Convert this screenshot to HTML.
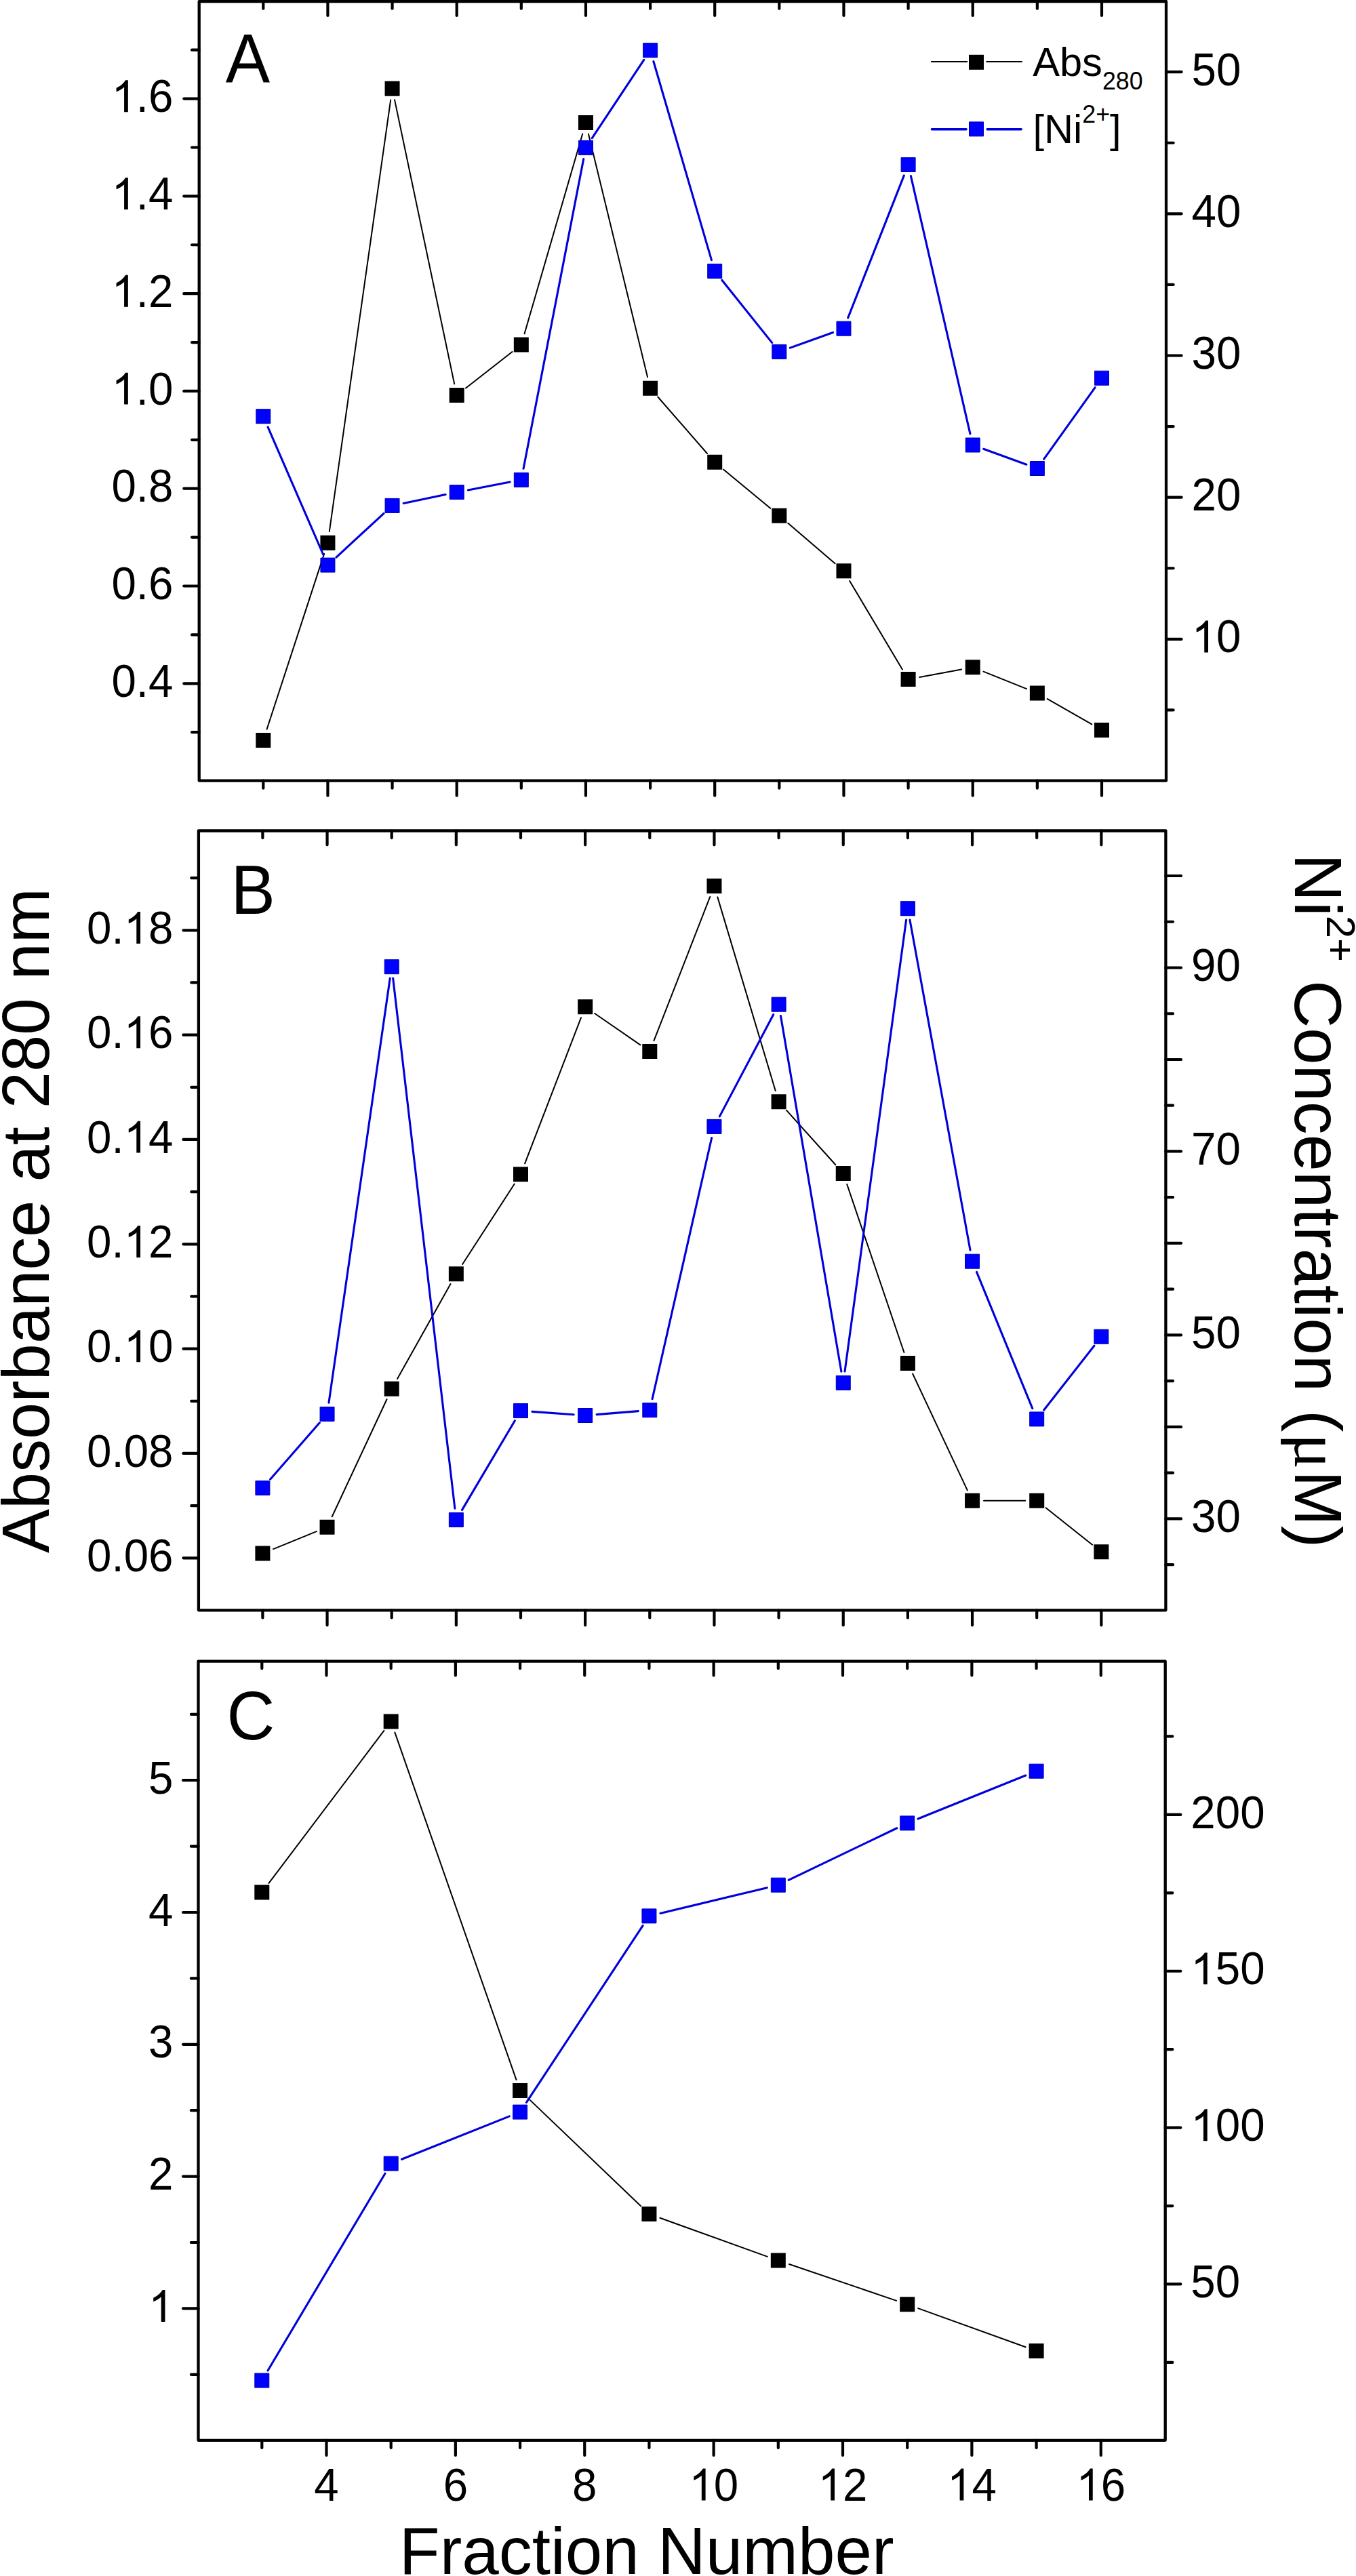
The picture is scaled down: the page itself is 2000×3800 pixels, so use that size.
<!DOCTYPE html><html><head><meta charset="utf-8"><style>html,body{margin:0;padding:0;background:#fff;width:2000px;height:3800px;}svg{display:block;}text{font-family:"Liberation Sans", sans-serif;fill:#000;}</style></head><body>
<svg width="2000" height="3800" viewBox="0 0 2000 3800">
<rect x="0" y="0" width="2000" height="3800" fill="#fff"/>
<path d="M388.30 1151.60V1162.75M388.30 2.10V12.65M483.43 1151.60V1173.75M483.43 2.10V22.95M578.56 1151.60V1162.75M578.56 2.10V12.65M673.69 1151.60V1173.75M673.69 2.10V22.95M768.82 1151.60V1162.75M768.82 2.10V12.65M863.95 1151.60V1173.75M863.95 2.10V22.95M959.08 1151.60V1162.75M959.08 2.10V12.65M1054.21 1151.60V1173.75M1054.21 2.10V22.95M1149.34 1151.60V1162.75M1149.34 2.10V12.65M1244.47 1151.60V1173.75M1244.47 2.10V22.95M1339.60 1151.60V1162.75M1339.60 2.10V12.65M1434.73 1151.60V1173.75M1434.73 2.10V22.95M1529.86 1151.60V1162.75M1529.86 2.10V12.65M1624.99 1151.60V1173.75M1624.99 2.10V22.95M293.70 1008.28H271.25M293.70 864.50H271.25M293.70 720.72H271.25M293.70 576.94H271.25M293.70 433.16H271.25M293.70 289.38H271.25M293.70 145.60H271.25M293.70 1080.17H283.05M293.70 936.39H283.05M293.70 792.61H283.05M293.70 648.83H283.05M293.70 505.05H283.05M293.70 361.27H283.05M293.70 217.49H283.05M293.70 73.71H283.05M1720.00 942.80H1742.65M1720.00 733.65H1742.65M1720.00 524.50H1742.65M1720.00 315.35H1742.65M1720.00 106.20H1742.65M1720.00 1047.38H1730.65M1720.00 838.23H1730.65M1720.00 629.08H1730.65M1720.00 419.92H1730.65M1720.00 210.77H1730.65" stroke="#000" stroke-width="4.20" fill="none" stroke-linecap="round"/>
<rect x="293.70" y="2.10" width="1426.30" height="1149.50" fill="none" stroke="#000" stroke-width="4.30" stroke-linejoin="round"/>
<g transform="translate(255.50,1027.88) scale(1,1.035)"><text x="-91.05 -54.63 -36.43" y="0" font-size="65.50">0.4</text></g>
<g transform="translate(255.50,884.10) scale(1,1.035)"><text x="-91.05 -54.63 -36.43" y="0" font-size="65.50">0.6</text></g>
<g transform="translate(255.50,740.32) scale(1,1.035)"><text x="-91.05 -54.63 -36.43" y="0" font-size="65.50">0.8</text></g>
<g transform="translate(255.50,596.54) scale(1,1.035)"><text x="-54.63 -36.43" y="0" font-size="65.50">.0</text><path d="M-66.65 0.00L-72.41 0.00L-72.41 -35.44Q-74.49 -33.53 -77.78 -31.66Q-81.08 -29.79 -83.92 -28.77L-83.92 -34.15Q-79.09 -36.34 -75.56 -39.40Q-72.02 -42.46 -70.39 -45.30L-66.65 -45.30Z" fill="#000"/></g>
<g transform="translate(255.50,452.76) scale(1,1.035)"><text x="-54.63 -36.43" y="0" font-size="65.50">.2</text><path d="M-66.65 0.00L-72.41 0.00L-72.41 -35.44Q-74.49 -33.53 -77.78 -31.66Q-81.08 -29.79 -83.92 -28.77L-83.92 -34.15Q-79.09 -36.34 -75.56 -39.40Q-72.02 -42.46 -70.39 -45.30L-66.65 -45.30Z" fill="#000"/></g>
<g transform="translate(255.50,308.98) scale(1,1.035)"><text x="-54.63 -36.43" y="0" font-size="65.50">.4</text><path d="M-66.65 0.00L-72.41 0.00L-72.41 -35.44Q-74.49 -33.53 -77.78 -31.66Q-81.08 -29.79 -83.92 -28.77L-83.92 -34.15Q-79.09 -36.34 -75.56 -39.40Q-72.02 -42.46 -70.39 -45.30L-66.65 -45.30Z" fill="#000"/></g>
<g transform="translate(255.50,165.20) scale(1,1.035)"><text x="-54.63 -36.43" y="0" font-size="65.50">.6</text><path d="M-66.65 0.00L-72.41 0.00L-72.41 -35.44Q-74.49 -33.53 -77.78 -31.66Q-81.08 -29.79 -83.92 -28.77L-83.92 -34.15Q-79.09 -36.34 -75.56 -39.40Q-72.02 -42.46 -70.39 -45.30L-66.65 -45.30Z" fill="#000"/></g>
<g transform="translate(1757.60,962.40) scale(1,1.035)"><text x="36.43" y="0" font-size="65.50">0</text><path d="M24.40 0.00L18.65 0.00L18.65 -35.44Q16.57 -33.53 13.27 -31.66Q9.98 -29.79 7.13 -28.77L7.13 -34.15Q11.96 -36.34 15.50 -39.40Q19.03 -42.46 20.66 -45.30L24.40 -45.30Z" fill="#000"/></g>
<g transform="translate(1757.60,753.25) scale(1,1.035)"><text x="0.00 36.43" y="0" font-size="65.50">20</text></g>
<g transform="translate(1757.60,544.10) scale(1,1.035)"><text x="0.00 36.43" y="0" font-size="65.50">30</text></g>
<g transform="translate(1757.60,334.95) scale(1,1.035)"><text x="0.00 36.43" y="0" font-size="65.50">40</text></g>
<g transform="translate(1757.60,125.80) scale(1,1.035)"><text x="0.00 36.43" y="0" font-size="65.50">50</text></g>
<text transform="translate(332.80,122.00) scale(1,1.040)" font-size="98.00">A</text>
<path d="M393.58 1075.74L478.15 816.86M485.82 783.87L576.17 147.53M582.06 147.34L670.19 566.36M687.07 572.52L755.44 518.98M773.56 492.18L859.21 197.42M867.96 197.62L955.07 556.18M970.25 585.51L1043.04 668.99M1067.30 692.65L1136.25 749.85M1162.24 771.77L1231.57 831.23M1253.17 856.91L1330.90 987.49M1356.31 998.97L1418.02 987.43M1450.51 990.63L1514.08 1016.17M1544.62 1030.94L1610.23 1068.46" stroke="#000" stroke-width="2.00" fill="none" stroke-linecap="round"/>
<path d="M377.30 1080.90h22.0v22.0h-22.0zM472.43 789.70h22.0v22.0h-22.0zM567.56 119.70h22.0v22.0h-22.0zM662.69 572.00h22.0v22.0h-22.0zM757.82 497.50h22.0v22.0h-22.0zM852.95 170.10h22.0v22.0h-22.0zM948.08 561.70h22.0v22.0h-22.0zM1043.21 670.80h22.0v22.0h-22.0zM1138.34 749.70h22.0v22.0h-22.0zM1233.47 831.30h22.0v22.0h-22.0zM1328.60 991.10h22.0v22.0h-22.0zM1423.73 973.30h22.0v22.0h-22.0zM1518.86 1011.50h22.0v22.0h-22.0zM1613.99 1065.90h22.0v22.0h-22.0z" fill="#000"/>
<path d="M395.06 629.80L476.67 818.00M495.93 822.08L566.06 757.42M595.20 742.44L657.05 729.56M690.39 722.91L752.12 711.09M772.06 691.21L860.71 234.59M873.33 203.72L949.70 88.38M963.85 90.52L1049.44 383.58M1064.83 413.18L1138.72 505.62M1165.34 513.15L1228.47 490.45M1250.70 468.88L1333.37 258.82M1343.41 259.57L1430.92 639.93M1450.71 662.30L1513.88 685.20M1539.74 677.16L1615.11 571.54" stroke="#0000DD" stroke-width="3.10" fill="none" stroke-linecap="round"/>
<path d="M377.80 603.70h21.0v21.0h-21.0zM472.93 823.10h21.0v21.0h-21.0zM568.06 735.40h21.0v21.0h-21.0zM663.19 715.60h21.0v21.0h-21.0zM758.32 697.40h21.0v21.0h-21.0zM853.45 207.40h21.0v21.0h-21.0zM948.58 63.70h21.0v21.0h-21.0zM1043.71 389.40h21.0v21.0h-21.0zM1138.84 508.40h21.0v21.0h-21.0zM1233.97 474.20h21.0v21.0h-21.0zM1329.10 232.50h21.0v21.0h-21.0zM1424.23 646.00h21.0v21.0h-21.0zM1519.36 680.50h21.0v21.0h-21.0zM1614.49 547.20h21.0v21.0h-21.0z" fill="#0000FF" stroke="#0000B4" stroke-width="1"/>
<path d="M387.40 2375.30V2386.45M387.40 1225.50V1236.05M482.55 2375.30V2397.45M482.55 1225.50V1246.35M577.70 2375.30V2386.45M577.70 1225.50V1236.05M672.85 2375.30V2397.45M672.85 1225.50V1246.35M768.00 2375.30V2386.45M768.00 1225.50V1236.05M863.15 2375.30V2397.45M863.15 1225.50V1246.35M958.30 2375.30V2386.45M958.30 1225.50V1236.05M1053.45 2375.30V2397.45M1053.45 1225.50V1246.35M1148.60 2375.30V2386.45M1148.60 1225.50V1236.05M1243.75 2375.30V2397.45M1243.75 1225.50V1246.35M1338.90 2375.30V2386.45M1338.90 1225.50V1236.05M1434.05 2375.30V2397.45M1434.05 1225.50V1246.35M1529.20 2375.30V2386.45M1529.20 1225.50V1236.05M1624.35 2375.30V2397.45M1624.35 1225.50V1246.35M292.90 2298.30H270.45M292.90 2143.97H270.45M292.90 1989.64H270.45M292.90 1835.30H270.45M292.90 1680.97H270.45M292.90 1526.63H270.45M292.90 1372.30H270.45M292.90 2221.14H282.25M292.90 2066.80H282.25M292.90 1912.47H282.25M292.90 1758.13H282.25M292.90 1603.80H282.25M292.90 1449.47H282.25M292.90 1295.13H282.25M1719.40 2240.43H1742.05M1719.40 2104.94H1742.05M1719.40 1969.45H1742.05M1719.40 1833.96H1742.05M1719.40 1698.47H1742.05M1719.40 1562.98H1742.05M1719.40 1427.49H1742.05M1719.40 1292.00H1742.05M1719.40 2308.18H1730.05M1719.40 2172.68H1730.05M1719.40 2037.19H1730.05M1719.40 1901.70H1730.05M1719.40 1766.21H1730.05M1719.40 1630.72H1730.05M1719.40 1495.23H1730.05M1719.40 1359.74H1730.05" stroke="#000" stroke-width="4.20" fill="none" stroke-linecap="round"/>
<rect x="292.90" y="1225.50" width="1426.50" height="1149.80" fill="none" stroke="#000" stroke-width="4.30" stroke-linejoin="round"/>
<g transform="translate(255.50,2317.90) scale(1,1.035)"><text x="-127.48 -91.05 -72.86 -36.43" y="0" font-size="65.50">0.06</text></g>
<g transform="translate(255.50,2163.57) scale(1,1.035)"><text x="-127.48 -91.05 -72.86 -36.43" y="0" font-size="65.50">0.08</text></g>
<g transform="translate(255.50,2009.24) scale(1,1.035)"><text x="-127.48 -91.05 -36.43" y="0" font-size="65.50">0.0</text><path d="M-48.45 0.00L-54.21 0.00L-54.21 -35.44Q-56.29 -33.53 -59.58 -31.66Q-62.88 -29.79 -65.72 -28.77L-65.72 -34.15Q-60.89 -36.34 -57.36 -39.40Q-53.83 -42.46 -52.20 -45.30L-48.45 -45.30Z" fill="#000"/></g>
<g transform="translate(255.50,1854.90) scale(1,1.035)"><text x="-127.48 -91.05 -36.43" y="0" font-size="65.50">0.2</text><path d="M-48.45 0.00L-54.21 0.00L-54.21 -35.44Q-56.29 -33.53 -59.58 -31.66Q-62.88 -29.79 -65.72 -28.77L-65.72 -34.15Q-60.89 -36.34 -57.36 -39.40Q-53.83 -42.46 -52.20 -45.30L-48.45 -45.30Z" fill="#000"/></g>
<g transform="translate(255.50,1700.57) scale(1,1.035)"><text x="-127.48 -91.05 -36.43" y="0" font-size="65.50">0.4</text><path d="M-48.45 0.00L-54.21 0.00L-54.21 -35.44Q-56.29 -33.53 -59.58 -31.66Q-62.88 -29.79 -65.72 -28.77L-65.72 -34.15Q-60.89 -36.34 -57.36 -39.40Q-53.83 -42.46 -52.20 -45.30L-48.45 -45.30Z" fill="#000"/></g>
<g transform="translate(255.50,1546.23) scale(1,1.035)"><text x="-127.48 -91.05 -36.43" y="0" font-size="65.50">0.6</text><path d="M-48.45 0.00L-54.21 0.00L-54.21 -35.44Q-56.29 -33.53 -59.58 -31.66Q-62.88 -29.79 -65.72 -28.77L-65.72 -34.15Q-60.89 -36.34 -57.36 -39.40Q-53.83 -42.46 -52.20 -45.30L-48.45 -45.30Z" fill="#000"/></g>
<g transform="translate(255.50,1391.90) scale(1,1.035)"><text x="-127.48 -91.05 -36.43" y="0" font-size="65.50">0.8</text><path d="M-48.45 0.00L-54.21 0.00L-54.21 -35.44Q-56.29 -33.53 -59.58 -31.66Q-62.88 -29.79 -65.72 -28.77L-65.72 -34.15Q-60.89 -36.34 -57.36 -39.40Q-53.83 -42.46 -52.20 -45.30L-48.45 -45.30Z" fill="#000"/></g>
<g transform="translate(1757.00,2260.03) scale(1,1.035)"><text x="0.00 36.43" y="0" font-size="65.50">30</text></g>
<g transform="translate(1757.00,1989.05) scale(1,1.035)"><text x="0.00 36.43" y="0" font-size="65.50">50</text></g>
<g transform="translate(1757.00,1718.07) scale(1,1.035)"><text x="0.00 36.43" y="0" font-size="65.50">70</text></g>
<g transform="translate(1757.00,1447.09) scale(1,1.035)"><text x="0.00 36.43" y="0" font-size="65.50">90</text></g>
<text transform="translate(340.40,1348.00) scale(1,1.040)" font-size="98.00">B</text>
<path d="M403.14 2285.08L466.81 2259.12M489.74 2237.29L570.51 2064.21M586.02 2033.97L664.53 1894.03M682.09 1864.93L758.76 1746.47M774.11 1716.34L857.04 1501.16M877.14 1494.96L944.31 1541.34M964.48 1535.16L1047.27 1322.94M1058.32 1323.39L1143.73 1609.01M1159.98 1637.93L1232.37 1718.27M1249.22 1747.00L1333.43 1995.00M1346.13 2026.49L1426.82 2198.31M1451.05 2213.70L1512.20 2213.70M1542.51 2224.28L1611.04 2278.72" stroke="#000" stroke-width="2.00" fill="none" stroke-linecap="round"/>
<path d="M376.40 2280.50h22.0v22.0h-22.0zM471.55 2241.70h22.0v22.0h-22.0zM566.70 2037.80h22.0v22.0h-22.0zM661.85 1868.20h22.0v22.0h-22.0zM757.00 1721.20h22.0v22.0h-22.0zM852.15 1474.30h22.0v22.0h-22.0zM947.30 1540.00h22.0v22.0h-22.0zM1042.45 1296.10h22.0v22.0h-22.0zM1137.60 1614.30h22.0v22.0h-22.0zM1232.75 1719.90h22.0v22.0h-22.0zM1327.90 2000.10h22.0v22.0h-22.0zM1423.05 2202.70h22.0v22.0h-22.0zM1518.20 2202.70h22.0v22.0h-22.0zM1613.35 2278.30h22.0v22.0h-22.0z" fill="#000"/>
<path d="M398.58 2182.19L471.37 2098.81M484.98 2069.17L575.27 1443.03M579.67 1443.09L670.88 2225.11M681.50 2227.37L759.35 2095.73M784.96 2082.33L846.19 2086.77M880.09 2086.61L941.36 2081.59M962.07 2063.62L1049.68 1678.48M1061.39 1646.87L1140.66 1496.73M1151.46 1498.46L1240.89 2023.14M1246.04 2023.06L1336.61 1357.04M1341.96 1356.92L1430.99 1843.98M1440.48 1876.44L1522.77 2077.66M1539.68 2080.01L1613.87 1985.19" stroke="#0000DD" stroke-width="3.10" fill="none" stroke-linecap="round"/>
<path d="M376.90 2184.50h21.0v21.0h-21.0zM472.05 2075.50h21.0v21.0h-21.0zM567.20 1415.70h21.0v21.0h-21.0zM662.35 2231.50h21.0v21.0h-21.0zM757.50 2070.60h21.0v21.0h-21.0zM852.65 2077.50h21.0v21.0h-21.0zM947.80 2069.70h21.0v21.0h-21.0zM1042.95 1651.40h21.0v21.0h-21.0zM1138.10 1471.20h21.0v21.0h-21.0zM1233.25 2029.40h21.0v21.0h-21.0zM1328.40 1329.70h21.0v21.0h-21.0zM1423.55 1850.20h21.0v21.0h-21.0zM1518.70 2082.90h21.0v21.0h-21.0zM1613.85 1961.30h21.0v21.0h-21.0z" fill="#0000FF" stroke="#0000B4" stroke-width="1"/>
<path d="M386.30 3599.80V3610.95M386.30 2450.70V2461.25M481.49 3599.80V3621.95M481.49 2450.70V2471.55M576.68 3599.80V3610.95M576.68 2450.70V2461.25M671.87 3599.80V3621.95M671.87 2450.70V2471.55M767.06 3599.80V3610.95M767.06 2450.70V2461.25M862.25 3599.80V3621.95M862.25 2450.70V2471.55M957.44 3599.80V3610.95M957.44 2450.70V2461.25M1052.63 3599.80V3621.95M1052.63 2450.70V2471.55M1147.82 3599.80V3610.95M1147.82 2450.70V2461.25M1243.01 3599.80V3621.95M1243.01 2450.70V2471.55M1338.20 3599.80V3610.95M1338.20 2450.70V2461.25M1433.39 3599.80V3621.95M1433.39 2450.70V2471.55M1528.58 3599.80V3610.95M1528.58 2450.70V2461.25M1623.77 3599.80V3621.95M1623.77 2450.70V2471.55M292.50 3405.40H270.05M292.50 3210.60H270.05M292.50 3015.80H270.05M292.50 2821.00H270.05M292.50 2626.20H270.05M292.50 3502.80H281.85M292.50 3308.00H281.85M292.50 3113.20H281.85M292.50 2918.40H281.85M292.50 2723.60H281.85M292.50 2528.80H281.85M1718.70 3369.45H1741.35M1718.70 3138.60H1741.35M1718.70 2907.75H1741.35M1718.70 2676.90H1741.35M1718.70 3484.88H1729.35M1718.70 3254.03H1729.35M1718.70 3023.18H1729.35M1718.70 2792.33H1729.35M1718.70 2561.47H1729.35" stroke="#000" stroke-width="4.20" fill="none" stroke-linecap="round"/>
<rect x="292.50" y="2450.70" width="1426.20" height="1149.10" fill="none" stroke="#000" stroke-width="4.30" stroke-linejoin="round"/>
<g transform="translate(255.50,3425.00) scale(1,1.035)"><path d="M-12.03 0.00L-17.78 0.00L-17.78 -35.44Q-19.86 -33.53 -23.16 -31.66Q-26.45 -29.79 -29.30 -28.77L-29.30 -34.15Q-24.47 -36.34 -20.93 -39.40Q-17.40 -42.46 -15.77 -45.30L-12.03 -45.30Z" fill="#000"/></g>
<g transform="translate(255.50,3230.20) scale(1,1.035)"><text x="-36.43" y="0" font-size="65.50">2</text></g>
<g transform="translate(255.50,3035.40) scale(1,1.035)"><text x="-36.43" y="0" font-size="65.50">3</text></g>
<g transform="translate(255.50,2840.60) scale(1,1.035)"><text x="-36.43" y="0" font-size="65.50">4</text></g>
<g transform="translate(255.50,2645.80) scale(1,1.035)"><text x="-36.43" y="0" font-size="65.50">5</text></g>
<g transform="translate(1756.30,3389.05) scale(1,1.035)"><text x="0.00 36.43" y="0" font-size="65.50">50</text></g>
<g transform="translate(1756.30,3158.20) scale(1,1.035)"><text x="36.43 72.86" y="0" font-size="65.50">00</text><path d="M24.40 0.00L18.65 0.00L18.65 -35.44Q16.57 -33.53 13.27 -31.66Q9.98 -29.79 7.13 -28.77L7.13 -34.15Q11.96 -36.34 15.50 -39.40Q19.03 -42.46 20.66 -45.30L24.40 -45.30Z" fill="#000"/></g>
<g transform="translate(1756.30,2927.35) scale(1,1.035)"><text x="36.43 72.86" y="0" font-size="65.50">50</text><path d="M24.40 0.00L18.65 0.00L18.65 -35.44Q16.57 -33.53 13.27 -31.66Q9.98 -29.79 7.13 -28.77L7.13 -34.15Q11.96 -36.34 15.50 -39.40Q19.03 -42.46 20.66 -45.30L24.40 -45.30Z" fill="#000"/></g>
<g transform="translate(1756.30,2696.50) scale(1,1.035)"><text x="0.00 36.43 72.86" y="0" font-size="65.50">200</text></g>
<text transform="translate(334.50,2566.30) scale(1,1.040)" font-size="98.00">C</text>
<path d="M396.55 2777.84L566.43 2552.96M582.29 2555.45L761.45 3067.85M779.34 3095.65L945.16 3254.25M973.43 3271.76L1131.83 3328.84M1163.92 3340.07L1322.10 3393.83M1354.19 3405.07L1512.59 3462.23" stroke="#000" stroke-width="2.00" fill="none" stroke-linecap="round"/>
<path d="M375.30 2780.40h22.0v22.0h-22.0zM565.68 2528.40h22.0v22.0h-22.0zM756.06 3072.90h22.0v22.0h-22.0zM946.44 3255.00h22.0v22.0h-22.0zM1136.82 3323.60h22.0v22.0h-22.0zM1327.20 3388.30h22.0v22.0h-22.0zM1517.58 3457.00h22.0v22.0h-22.0z" fill="#000"/>
<path d="M394.99 3496.99L567.99 3206.21M592.47 3185.30L751.27 3121.90M776.41 3101.40L948.09 2840.60M973.97 2822.43L1131.29 2784.67M1163.15 2773.35L1322.87 2696.75M1353.97 2683.05L1512.81 2619.05" stroke="#0000DD" stroke-width="3.10" fill="none" stroke-linecap="round"/>
<path d="M375.80 3501.10h21.0v21.0h-21.0zM566.18 3181.10h21.0v21.0h-21.0zM756.56 3105.10h21.0v21.0h-21.0zM946.94 2815.90h21.0v21.0h-21.0zM1137.32 2770.20h21.0v21.0h-21.0zM1327.70 2678.90h21.0v21.0h-21.0zM1518.08 2602.20h21.0v21.0h-21.0z" fill="#0000FF" stroke="#0000B4" stroke-width="1"/>
<g transform="translate(481.49,3688.50) scale(1,1.035)"><text x="-18.21" y="0" font-size="65.50">4</text></g>
<g transform="translate(671.87,3688.50) scale(1,1.035)"><text x="-18.21" y="0" font-size="65.50">6</text></g>
<g transform="translate(862.25,3688.50) scale(1,1.035)"><text x="-18.21" y="0" font-size="65.50">8</text></g>
<g transform="translate(1052.63,3688.50) scale(1,1.035)"><text x="0.00" y="0" font-size="65.50">0</text><path d="M-12.03 0.00L-17.78 0.00L-17.78 -35.44Q-19.86 -33.53 -23.16 -31.66Q-26.45 -29.79 -29.30 -28.77L-29.30 -34.15Q-24.47 -36.34 -20.93 -39.40Q-17.40 -42.46 -15.77 -45.30L-12.03 -45.30Z" fill="#000"/></g>
<g transform="translate(1243.01,3688.50) scale(1,1.035)"><text x="0.00" y="0" font-size="65.50">2</text><path d="M-12.03 0.00L-17.78 0.00L-17.78 -35.44Q-19.86 -33.53 -23.16 -31.66Q-26.45 -29.79 -29.30 -28.77L-29.30 -34.15Q-24.47 -36.34 -20.93 -39.40Q-17.40 -42.46 -15.77 -45.30L-12.03 -45.30Z" fill="#000"/></g>
<g transform="translate(1433.39,3688.50) scale(1,1.035)"><text x="0.00" y="0" font-size="65.50">4</text><path d="M-12.03 0.00L-17.78 0.00L-17.78 -35.44Q-19.86 -33.53 -23.16 -31.66Q-26.45 -29.79 -29.30 -28.77L-29.30 -34.15Q-24.47 -36.34 -20.93 -39.40Q-17.40 -42.46 -15.77 -45.30L-12.03 -45.30Z" fill="#000"/></g>
<g transform="translate(1623.77,3688.50) scale(1,1.035)"><text x="0.00" y="0" font-size="65.50">6</text><path d="M-12.03 0.00L-17.78 0.00L-17.78 -35.44Q-19.86 -33.53 -23.16 -31.66Q-26.45 -29.79 -29.30 -28.77L-29.30 -34.15Q-24.47 -36.34 -20.93 -39.40Q-17.40 -42.46 -15.77 -45.30L-12.03 -45.30Z" fill="#000"/></g>
<path d="M1373.9 91.1H1426.3M1455.3 91.1H1507" stroke="#000" stroke-width="2" stroke-linecap="round"/>
<path d="M1429 80.8h22v22h-22z" fill="#000"/>
<path d="M1374.4 190.8H1425.1M1456.1 190.8H1506.2" stroke="#0000DD" stroke-width="3.5" stroke-linecap="round"/>
<path d="M1429.5 179.9h21v21h-21z" fill="#0000FF" stroke="#0000B4" stroke-width="1"/>
<text transform="translate(1523.20,112.10)" font-size="59.60">Abs</text>
<text transform="translate(1625.90,132.20) scale(1,1.035)" font-size="35.76">280</text>
<text transform="translate(1523.45,210.70)" font-size="59.60">[Ni</text>
<text transform="translate(1596.30,181.00) scale(1,1.035)" font-size="35.76">2+</text>
<text transform="translate(1637.10,210.70)" font-size="59.60">]</text>
<text transform="translate(588.80,3797.10)" font-size="98.00">Fraction Number</text>
<text transform="translate(71.80,2291.00) rotate(-90)" font-size="97.50">Absorbance at 280 nm</text>
<g transform="translate(1909.80,1259.20) rotate(90)">
<text x="0" y="0" font-size="98.00">Ni</text>
<text x="91.5" y="-47.2" font-size="60">2+</text>
<text x="186.7" y="0" font-size="97.5">Concentration (</text>
<text x="855.5" y="0" font-size="98" style="font-family:'Liberation Serif',serif">&#956;</text>
<text x="910.0" y="0" font-size="98">M)</text>
</g>
</svg></body></html>
